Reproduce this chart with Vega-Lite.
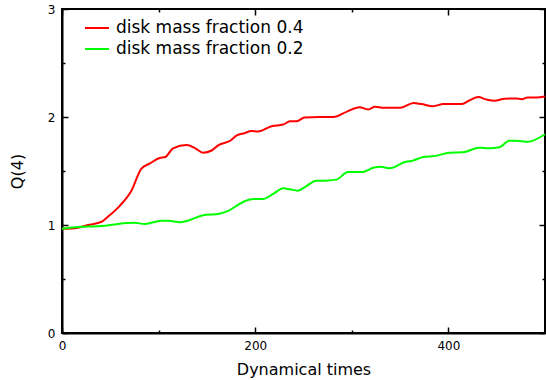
{
  "$schema": "https://vega.github.io/schema/vega-lite/v6.json",
  "width": 483,
  "height": 324,
  "autosize": "none",
  "padding": {"left": 62, "top": 9, "right": 1, "bottom": 47},
  "background": "white",
  "config": {
    "view": {"stroke": "black", "strokeWidth": 2},
    "font": "DejaVu Sans",
    "axis": {"grid": false, "labelFont": "DejaVu Sans", "titleFont": "DejaVu Sans", "labelColor": "black", "titleColor": "black", "tickColor": "black", "domainColor": "black", "titleFontWeight": "normal", "tickWidth": 1.5, "labelFlush": false, "labelOverlap": false},
    "legend": {"labelFont": "DejaVu Sans"}
  },
  "data": {"values": [
    {"t": 0, "q": 0.965, "s": "disk mass fraction 0.4"},
    {"t": 13, "q": 0.97, "s": "disk mass fraction 0.4"},
    {"t": 27, "q": 1.0, "s": "disk mass fraction 0.4"},
    {"t": 41, "q": 1.03, "s": "disk mass fraction 0.4"},
    {"t": 48, "q": 1.08, "s": "disk mass fraction 0.4"},
    {"t": 60, "q": 1.18, "s": "disk mass fraction 0.4"},
    {"t": 72, "q": 1.32, "s": "disk mass fraction 0.4"},
    {"t": 82, "q": 1.52, "s": "disk mass fraction 0.4"},
    {"t": 91, "q": 1.57, "s": "disk mass fraction 0.4"},
    {"t": 101, "q": 1.62, "s": "disk mass fraction 0.4"},
    {"t": 107, "q": 1.63, "s": "disk mass fraction 0.4"},
    {"t": 115, "q": 1.71, "s": "disk mass fraction 0.4"},
    {"t": 129, "q": 1.74, "s": "disk mass fraction 0.4"},
    {"t": 138, "q": 1.71, "s": "disk mass fraction 0.4"},
    {"t": 146, "q": 1.67, "s": "disk mass fraction 0.4"},
    {"t": 155, "q": 1.69, "s": "disk mass fraction 0.4"},
    {"t": 162, "q": 1.74, "s": "disk mass fraction 0.4"},
    {"t": 174, "q": 1.78, "s": "disk mass fraction 0.4"},
    {"t": 181, "q": 1.83, "s": "disk mass fraction 0.4"},
    {"t": 189, "q": 1.85, "s": "disk mass fraction 0.4"},
    {"t": 196, "q": 1.87, "s": "disk mass fraction 0.4"},
    {"t": 203, "q": 1.865, "s": "disk mass fraction 0.4"},
    {"t": 217, "q": 1.915, "s": "disk mass fraction 0.4"},
    {"t": 229, "q": 1.93, "s": "disk mass fraction 0.4"},
    {"t": 236, "q": 1.96, "s": "disk mass fraction 0.4"},
    {"t": 243, "q": 1.96, "s": "disk mass fraction 0.4"},
    {"t": 251, "q": 1.995, "s": "disk mass fraction 0.4"},
    {"t": 267, "q": 2.0, "s": "disk mass fraction 0.4"},
    {"t": 281, "q": 2.0, "s": "disk mass fraction 0.4"},
    {"t": 295, "q": 2.05, "s": "disk mass fraction 0.4"},
    {"t": 308, "q": 2.09, "s": "disk mass fraction 0.4"},
    {"t": 317, "q": 2.07, "s": "disk mass fraction 0.4"},
    {"t": 324, "q": 2.095, "s": "disk mass fraction 0.4"},
    {"t": 333, "q": 2.085, "s": "disk mass fraction 0.4"},
    {"t": 350, "q": 2.085, "s": "disk mass fraction 0.4"},
    {"t": 364, "q": 2.13, "s": "disk mass fraction 0.4"},
    {"t": 372, "q": 2.12, "s": "disk mass fraction 0.4"},
    {"t": 384, "q": 2.1, "s": "disk mass fraction 0.4"},
    {"t": 395, "q": 2.12, "s": "disk mass fraction 0.4"},
    {"t": 414, "q": 2.12, "s": "disk mass fraction 0.4"},
    {"t": 422, "q": 2.155, "s": "disk mass fraction 0.4"},
    {"t": 431, "q": 2.185, "s": "disk mass fraction 0.4"},
    {"t": 439, "q": 2.163, "s": "disk mass fraction 0.4"},
    {"t": 448, "q": 2.15, "s": "disk mass fraction 0.4"},
    {"t": 458, "q": 2.17, "s": "disk mass fraction 0.4"},
    {"t": 470, "q": 2.172, "s": "disk mass fraction 0.4"},
    {"t": 476, "q": 2.165, "s": "disk mass fraction 0.4"},
    {"t": 482, "q": 2.18, "s": "disk mass fraction 0.4"},
    {"t": 491, "q": 2.18, "s": "disk mass fraction 0.4"},
    {"t": 500, "q": 2.19, "s": "disk mass fraction 0.4"},
    {"t": 0, "q": 0.965, "s": "disk mass fraction 0.2"},
    {"t": 13, "q": 0.98, "s": "disk mass fraction 0.2"},
    {"t": 27, "q": 0.985, "s": "disk mass fraction 0.2"},
    {"t": 41, "q": 0.99, "s": "disk mass fraction 0.2"},
    {"t": 58, "q": 1.01, "s": "disk mass fraction 0.2"},
    {"t": 75, "q": 1.02, "s": "disk mass fraction 0.2"},
    {"t": 86, "q": 1.01, "s": "disk mass fraction 0.2"},
    {"t": 103, "q": 1.04, "s": "disk mass fraction 0.2"},
    {"t": 110, "q": 1.04, "s": "disk mass fraction 0.2"},
    {"t": 122, "q": 1.025, "s": "disk mass fraction 0.2"},
    {"t": 130, "q": 1.04, "s": "disk mass fraction 0.2"},
    {"t": 146, "q": 1.09, "s": "disk mass fraction 0.2"},
    {"t": 163, "q": 1.105, "s": "disk mass fraction 0.2"},
    {"t": 172, "q": 1.13, "s": "disk mass fraction 0.2"},
    {"t": 181, "q": 1.18, "s": "disk mass fraction 0.2"},
    {"t": 189, "q": 1.22, "s": "disk mass fraction 0.2"},
    {"t": 199, "q": 1.24, "s": "disk mass fraction 0.2"},
    {"t": 208, "q": 1.24, "s": "disk mass fraction 0.2"},
    {"t": 219, "q": 1.29, "s": "disk mass fraction 0.2"},
    {"t": 229, "q": 1.34, "s": "disk mass fraction 0.2"},
    {"t": 236, "q": 1.33, "s": "disk mass fraction 0.2"},
    {"t": 244, "q": 1.318, "s": "disk mass fraction 0.2"},
    {"t": 253, "q": 1.36, "s": "disk mass fraction 0.2"},
    {"t": 263, "q": 1.41, "s": "disk mass fraction 0.2"},
    {"t": 272, "q": 1.41, "s": "disk mass fraction 0.2"},
    {"t": 284, "q": 1.42, "s": "disk mass fraction 0.2"},
    {"t": 296, "q": 1.49, "s": "disk mass fraction 0.2"},
    {"t": 311, "q": 1.49, "s": "disk mass fraction 0.2"},
    {"t": 322, "q": 1.53, "s": "disk mass fraction 0.2"},
    {"t": 330, "q": 1.54, "s": "disk mass fraction 0.2"},
    {"t": 339, "q": 1.525, "s": "disk mass fraction 0.2"},
    {"t": 356, "q": 1.586, "s": "disk mass fraction 0.2"},
    {"t": 363, "q": 1.595, "s": "disk mass fraction 0.2"},
    {"t": 373, "q": 1.627, "s": "disk mass fraction 0.2"},
    {"t": 387, "q": 1.64, "s": "disk mass fraction 0.2"},
    {"t": 401, "q": 1.67, "s": "disk mass fraction 0.2"},
    {"t": 415, "q": 1.673, "s": "disk mass fraction 0.2"},
    {"t": 432, "q": 1.716, "s": "disk mass fraction 0.2"},
    {"t": 442, "q": 1.71, "s": "disk mass fraction 0.2"},
    {"t": 453, "q": 1.72, "s": "disk mass fraction 0.2"},
    {"t": 463, "q": 1.78, "s": "disk mass fraction 0.2"},
    {"t": 470, "q": 1.78, "s": "disk mass fraction 0.2"},
    {"t": 482, "q": 1.77, "s": "disk mass fraction 0.2"},
    {"t": 500, "q": 1.84, "s": "disk mass fraction 0.2"}
  ]},
  "layer": [
    {
      "mark": {"type": "line", "strokeWidth": 2, "interpolate": "monotone"},
      "encoding": {
        "x": {"field": "t", "type": "quantitative", "scale": {"domain": [0, 500], "nice": false, "zero": false},
          "axis": {"orient": "bottom", "title": "Dynamical times", "values": [0, 200, 400], "format": "d",
            "tickSize": -6, "domainWidth": 2, "labelFontSize": 12, "labelPadding": 13, "titleFontSize": 16, "titlePadding": 10}},
        "y": {"field": "q", "type": "quantitative", "scale": {"domain": [0, 3], "nice": false, "zero": false},
          "axis": {"orient": "left", "title": "Q(4)", "values": [0, 1, 2, 3], "format": "d",
            "tickSize": -6, "domainWidth": 2, "labelFontSize": 12, "labelPadding": 13, "titleFontSize": 16, "titlePadding": 22}},
        "color": {"field": "s", "type": "nominal",
          "scale": {"domain": ["disk mass fraction 0.4", "disk mass fraction 0.2"], "range": ["#ff0000", "#00ff00"]},
          "legend": {"title": null, "orient": "none", "legendX": 22, "legendY": 6, "symbolType": "stroke", "symbolSize": 576, "symbolStrokeWidth": 2, "labelFontSize": 17, "labelLimit": 0, "labelOffset": 6, "rowPadding": 0, "padding": 0, "labelColor": "black"}},
        "detail": {"field": "s", "type": "nominal"}
      }
    },
    {
      "mark": {"type": "line", "strokeOpacity": 0},
      "encoding": {
        "x": {"field": "t", "type": "quantitative",
          "axis": {"orient": "bottom", "title": null, "labels": false, "domain": false, "values": [100, 300], "tickSize": -3}},
        "y": {"field": "q", "type": "quantitative",
          "axis": {"orient": "left", "title": null, "labels": false, "domain": false, "values": [0.5, 1.5, 2.5], "tickSize": -3}},
        "detail": {"field": "s", "type": "nominal"}
      }
    },
    {
      "mark": {"type": "line", "strokeOpacity": 0},
      "encoding": {
        "x": {"field": "t", "type": "quantitative",
          "axis": {"orient": "top", "title": null, "labels": false, "domain": false, "values": [0, 200, 400], "tickSize": -6}},
        "y": {"field": "q", "type": "quantitative",
          "axis": {"orient": "right", "title": null, "labels": false, "domain": false, "values": [0, 1, 2, 3], "tickSize": -6}},
        "detail": {"field": "s", "type": "nominal"}
      }
    },
    {
      "mark": {"type": "line", "strokeOpacity": 0},
      "encoding": {
        "x": {"field": "t", "type": "quantitative",
          "axis": {"orient": "top", "title": null, "labels": false, "domain": false, "values": [100, 300], "tickSize": -3}},
        "y": {"field": "q", "type": "quantitative",
          "axis": {"orient": "right", "title": null, "labels": false, "domain": false, "values": [0.5, 1.5, 2.5], "tickSize": -3}},
        "detail": {"field": "s", "type": "nominal"}
      }
    }
  ],
  "resolve": {"axis": {"x": "independent", "y": "independent"}}
}
